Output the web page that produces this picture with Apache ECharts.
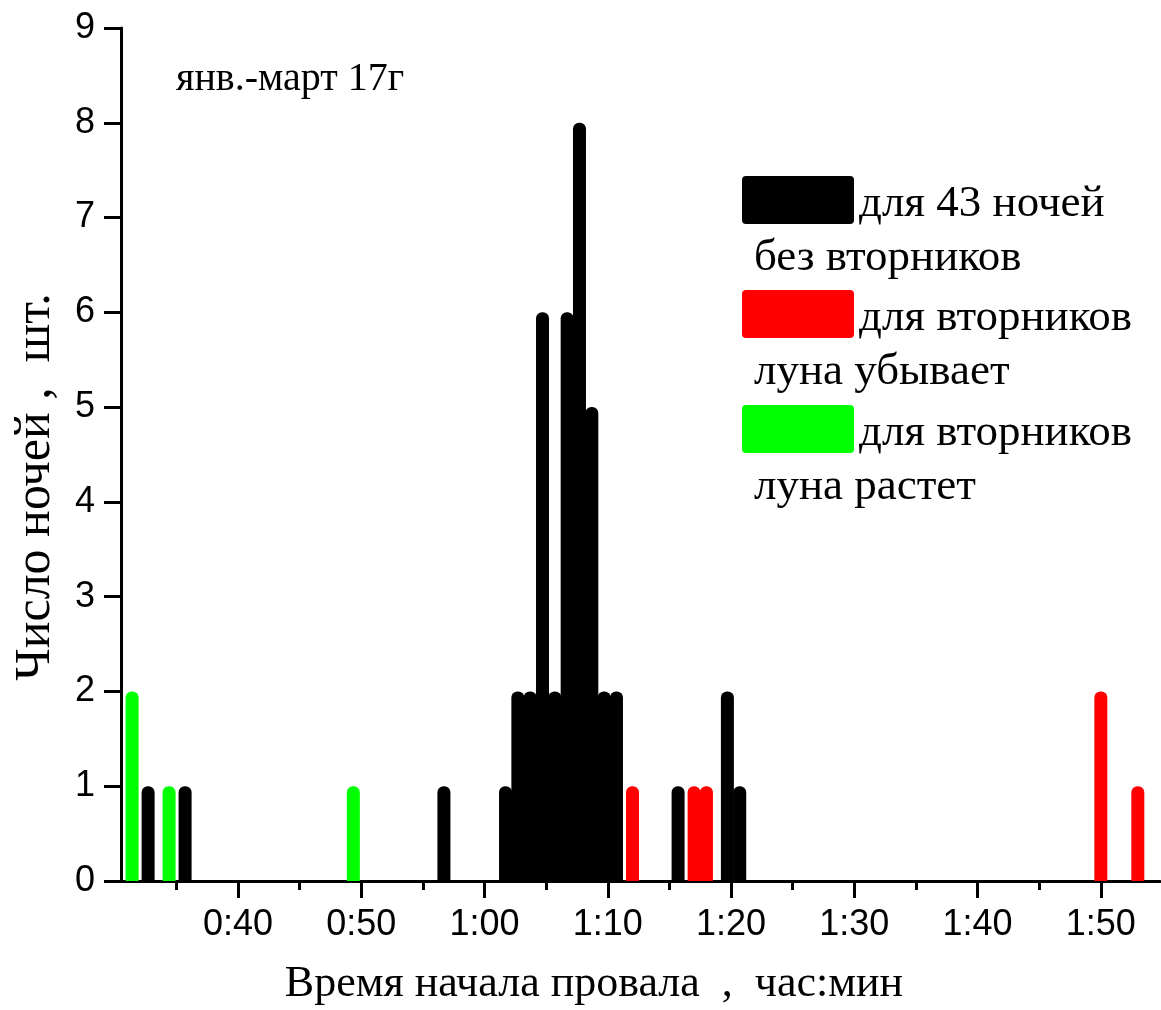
<!DOCTYPE html>
<html>
<head>
<meta charset="utf-8">
<script src="https://cdn.jsdelivr.net/npm/echarts@6/dist/echarts.min.js"></script>
<style>
html,body{margin:0;padding:0;background:#fff;}
#chart{width:1161px;height:1010px;}
</style>
</head>
<body>
<div id="chart"></div>
<script>
// Data: x = start time in minutes after 0:00, y = number of nights
const blackX = [32.7, 35.7, 56.7, 61.7, 62.7, 63.7, 64.7, 65.7, 66.7, 67.7, 68.7, 69.7, 70.7, 75.7, 79.7, 80.7];
const blackY = [1, 1, 1, 1, 2, 2, 6, 2, 6, 8, 5, 2, 2, 1, 2, 1];
const redX = [72.0, 77.0, 78.0, 110.0, 113.0];
const redY = [1, 1, 1, 2, 1];
const greenX = [31.4, 34.4, 49.35];
const greenY = [2, 1, 1];

const majorTicks = [40, 50, 60, 70, 80, 90, 100, 110];
const minorTicks = [35, 45, 55, 65, 75, 85, 95, 105];

const seriesNames = ['для 43 ночей', 'для вторников', 'для вторников'];
const seriesSub = ['без вторников', 'луна убывает', 'луна растет'];
const seriesColors = ['#000000', '#ff0000', '#00ff00'];

const xTitle = 'Время начала провала  ,  час:мин';
const yTitle = 'Число ночей ,  шт.';
const note = 'янв.-март 17г';

function fmt(v) {
  const h = Math.floor(v / 60);
  const m = Math.round(v - h * 60);
  return h + ':' + (m < 10 ? '0' + m : m);
}
function pairs(xs, ys) { return xs.map((x, i) => [x, ys[i]]); }

const chart = echarts.init(document.getElementById('chart'), null, {renderer: 'canvas'});

const serifFont = '"Liberation Serif", "Times New Roman", serif';
const sansFont = '"Liberation Sans", Arial, sans-serif';

const legendGraphics = [];
const legendTop = [176, 290, 405];
seriesNames.forEach((n, i) => {
  legendGraphics.push({
    type: 'rect', shape: {x: 742, y: legendTop[i], width: 112, height: 48, r: 4},
    style: {fill: seriesColors[i]}
  });
  legendGraphics.push({
    type: 'text', x: 859, y: legendTop[i] + 28,
    style: {text: n, font: '45px ' + serifFont, fill: '#000', verticalAlign: 'middle', align: 'left'}
  });
  legendGraphics.push({
    type: 'text', x: 754, y: legendTop[i] + 82,
    style: {text: seriesSub[i], font: '45px ' + serifFont, fill: '#000', verticalAlign: 'middle', align: 'left'}
  });
});

const barCommon = {
  type: 'bar', barWidth: 13, barGap: '-100%',
  xAxisIndex: 0, yAxisIndex: 0, animation: false
};

chart.setOption({
  animation: false,
  backgroundColor: '#fff',
  grid: {left: 121, right: 1, top: 28, bottom: 129, containLabel: false},
  xAxis: [{
    type: 'value', min: 30.5, max: 114.8,
    axisLine: {show: true, lineStyle: {color: '#000', width: 3}},
    axisTick: {show: true, inside: false, length: 17, lineStyle: {color: '#000', width: 3}, customValues: majorTicks},
    axisLabel: {show: true, customValues: majorTicks, formatter: fmt, margin: 26,
      fontFamily: sansFont, fontSize: 36, color: '#000'},
    splitLine: {show: false}
  }, {
    type: 'value', min: 30.5, max: 114.8, position: 'bottom',
    axisLine: {show: false},
    axisTick: {show: true, inside: false, length: 9, lineStyle: {color: '#000', width: 3}, customValues: minorTicks},
    axisLabel: {show: false},
    splitLine: {show: false}
  }],
  yAxis: {
    type: 'value', min: 0, max: 9, interval: 1,
    axisLine: {show: true, lineStyle: {color: '#000', width: 3}},
    axisTick: {show: true, inside: false, length: 17, lineStyle: {color: '#000', width: 3}},
    axisLabel: {margin: 26, fontFamily: sansFont, fontSize: 36, color: '#000'},
    splitLine: {show: false}
  },
  series: [
    Object.assign({}, barCommon, {name: seriesNames[0] + ' ' + seriesSub[0], data: pairs(blackX, blackY),
      itemStyle: {color: seriesColors[0], borderRadius: [6, 6, 0, 0]}}),
    Object.assign({}, barCommon, {name: seriesNames[1] + ' ' + seriesSub[1], data: pairs(redX, redY),
      itemStyle: {color: seriesColors[1], borderRadius: [6, 6, 0, 0]}}),
    Object.assign({}, barCommon, {name: seriesNames[2] + ' ' + seriesSub[2], data: pairs(greenX, greenY),
      itemStyle: {color: seriesColors[2], borderRadius: [6, 6, 0, 0]}})
  ],
  graphic: [
    {type: 'text', x: 176, y: 99, style: {text: note, font: '40px ' + serifFont, fill: '#000', align: 'left', verticalAlign: 'bottom'}},
    {type: 'text', x: 594, y: 984, style: {text: xTitle, font: '44px ' + serifFont, fill: '#000', align: 'center', verticalAlign: 'middle'}},
    {type: 'text', x: 36, y: 487, rotation: Math.PI / 2, style: {text: yTitle, font: '50px ' + serifFont, fill: '#000', align: 'center', verticalAlign: 'middle'}}
  ].concat(legendGraphics)
});
</script>
</body>
</html>
